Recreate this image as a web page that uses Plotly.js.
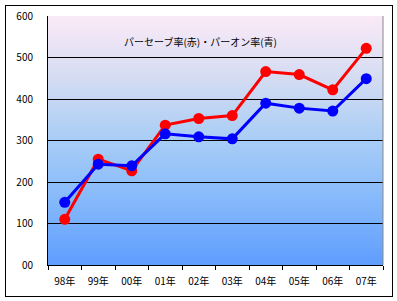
<!DOCTYPE html>
<html><head><meta charset="utf-8">
<script src="https://cdn.plot.ly/plotly-3.0.1.min.js"></script>
<style>
html,body{margin:0;padding:0;background:#fff;}
#wrap{position:relative;width:397px;height:301px;}
#bg{position:absolute;left:48px;top:16px;width:335px;height:249px;
background:linear-gradient(to bottom,#fbeaf8 0%,#d4dcf2 25%,#a8cdf6 50%,#84b8fb 75%,#5f9dff 100%);}
#frame{position:absolute;left:5px;top:5px;width:386px;height:290px;border:1px solid #000;}
#chart{position:absolute;left:0;top:0;width:397px;height:301px;}
</style></head>
<body><div id="wrap"><div id="bg"></div><div id="frame"></div><div id="chart"></div></div>
<script>
const years = ["98年","99年","00年","01年","02年","03年","04年","05年","06年","07年"];
const parSave = [110, 255, 227, 337, 353, 360, 466, 459, 422, 522];
const parOn = [151, 243, 239, 316, 309, 304, 390, 378, 371, 449];
const yTickVals = [0,100,200,300,400,500,600];
const yTickText = ["00","100","200","300","400","500","600"];
const titleText = "パーセーブ率(赤)・パーオン率(青)";

const font = {family:'"Noto Sans CJK JP", "DejaVu Sans", sans-serif', size:10, color:'#000'};
const traces = [
 {x:years, y:parSave, type:'scatter', mode:'lines+markers', line:{color:'#ff0000', width:3},
  marker:{color:'#ff0000', size:11}, cliponaxis:false, hoverinfo:'skip'},
 {x:years, y:parOn, type:'scatter', mode:'lines+markers', line:{color:'#0000ff', width:3},
  marker:{color:'#0000ff', size:11}, cliponaxis:false, hoverinfo:'skip'}
];
const layout = {
 width:397, height:301,
 margin:{l:48, r:14, t:16, b:36, pad:0},
 paper_bgcolor:'rgba(0,0,0,0)', plot_bgcolor:'rgba(0,0,0,0)',
 showlegend:false, font:font,
 xaxis:{type:'category', range:[-0.5,9.5], showline:true, linecolor:'#000', linewidth:1,
  ticks:'outside', tickson:'boundaries', ticklen:4, tickcolor:'#000', showgrid:false,
  ticklabelstandoff:7, fixedrange:true, tickfont:font, mirror:false, zeroline:false},
 yaxis:{range:[0,600], tickvals:yTickVals, ticktext:yTickText, showline:true, linecolor:'#000', linewidth:1,
  showgrid:true, gridcolor:'#000', gridwidth:1, ticks:'', ticklabelstandoff:12, zeroline:false,
  fixedrange:true, tickfont:font},
 shapes:[{type:'line', xref:'paper', yref:'paper', x0:1, x1:1, y0:0, y1:1, line:{color:'#888', width:1}}],
 annotations:[{text:titleText, xref:'paper', yref:'paper', x:0.455, y:0.897, xanchor:'center', yanchor:'middle', showarrow:false,
  font:{family:'"Noto Sans CJK JP", sans-serif', size:10, color:'#000'}}]
};
Plotly.newPlot('chart', traces, layout, {displayModeBar:false, staticPlot:true});
</script></body></html>
